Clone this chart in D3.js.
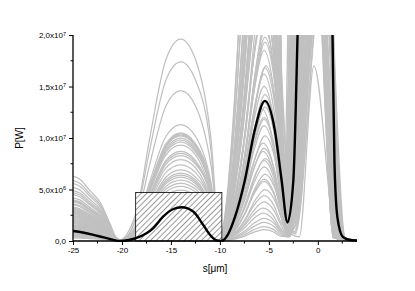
<!DOCTYPE html>
<html><head><meta charset="utf-8">
<script src="https://cdn.jsdelivr.net/npm/d3@7"></script>
<style>body{margin:0;background:#fff}svg{display:block}</style>
</head><body>
<svg id="c" width="415" height="291"></svg>
<script>
// ---- axis ticks ----
const xTicks = [-25, -20, -15, -10, -5, 0];
const xMinor = [-22.5, -17.5, -12.5, -7.5, -2.5, 2.5];
const yTicks = [0, 5, 10, 15, 20];              // in 1e6 W
const yMinor = [2.5, 7.5, 12.5, 17.5];
const yTickText = ["0,0", "5,0x10", "1,0x10", "1,5x10", "2,0x10"];
const yTickExp  = ["", "6", "7", "7", "7"];

// ---- black (mean) curve, P in 1e6 W ----
const blackS = [-25,-24,-23,-22,-21,-20.2,-19.3,-18.5,-17.5,-16.8,-15.8,-14.8,-13.9,-12.7,-11.7,-11.0,-10.4,-9.9,-9.2,-8.45,-7.45,-6.43,-5.4,-4.4,-3.7,-3.1,-2.5,-2.07,-1.5,-0.5,0.5,1.0,1.5,1.7,2.0,2.55,3.2,4.0];
const blackP = [0.97,0.82,0.62,0.38,0.14,0,0.1,0.3,0.75,1.26,2.36,3.08,3.27,2.84,1.55,0.58,0.08,0,0.6,2.36,5.9,10.8,13.6,10.8,5.9,1.8,5.9,20,45,70,70,45,20,7.6,2.3,0.4,0.12,0.05];

// ---- hatched box ----
const boxS = [-18.6, -9.8];
const boxP = 4.7;

// ---- gray shots: key values (1e6 W, s in µm) ----
const grayLeft = [6.3,4.2,5.6,3.1,2.4,4.9,1.8,3.6,2.9,1.2,5.2,2.1,0.9,3.3,1.5,4.5,2.6,0.7,1.9,3.9,1.1,2.3,0.5,1.6,2.8,0.8,1.3,3.5,0.6,2.0,1.0,0.4,1.7,0.9,2.5,0.6,1.4,0.3,1.1,0.7,
  3.0,1.5,4.0,0.8,2.2,5.9,1.2,2.7,0.5,3.8,1.9,0.9,4.7,1.4,2.4,0.6,3.2,1.7,1.0,2.9];
const grayLeftZero = [-20.4,-20.1,-20.3,-19.9,-20.2,-20.5,-20.0,-20.3,-19.8,-20.1,-20.6,-20.0,-19.9,-20.2,-20.4,-20.1,-19.8,-20.3,-20.0,-20.5,-20.2,-19.9,-20.1,-20.3,-20.0,-19.8,-20.2,-20.4,-20.1,-19.9,-20.3,-20.0,-20.2,-19.8,-20.1,-20.4,-20.0,-20.2,-19.9,-20.1,
  -20.2,-19.9,-20.4,-20.0,-20.3,-20.5,-19.8,-20.1,-20.0,-20.3,-19.9,-20.2,-20.4,-20.0,-20.1,-19.8,-20.3,-20.0,-20.2,-19.9];
const grayArch = [19.6,17.4,14.6,11.3,10.5,10.3,10.0,9.6,9.3,8.7,8.3,7.9,7.4,6.9,6.6,6.2,5.9,5.6,5.3,4.95,4.6,4.3,4.0,3.7,3.4,3.1,2.8,2.5,2.2,1.9,1.6,1.4,1.2,1.0,0.8,0.6,0.5,0.4,0.3,0.2,
  10.4,10.2,4.5,4.2,3.9,3.5,3.3,3.0,2.7,2.4,2.1,1.8,1.5,1.3,1.1,0.9,0.7,9.8,8.5,6.4];
const grayArchEnd = [-10.0,-10.1,-9.9,-10.0,-10.2,-9.9,-10.0,-10.1,-9.8,-10.0,-10.1,-9.9,-10.0,-10.2,-9.9,-10.0,-10.1,-9.8,-10.0,-9.9,-10.1,-10.0,-9.9,-10.2,-10.0,-9.8,-10.1,-10.0,-9.9,-10.0,-10.1,-9.9,-10.0,-10.2,-9.8,-10.0,-10.1,-9.9,-10.0,-10.0,
  -10.0,-9.9,-10.1,-10.0,-9.8,-10.0,-10.2,-9.9,-10.0,-10.1,-10.0,-9.9,-10.1,-10.0,-9.8,-10.0,-10.1,-9.9,-10.0,-10.0];
const grayPeak2 = [60,19.3,45,12.8,38,17.0,8.7,33,5.0,28,15.0,25,10.2,23,3.2,18.5,21.5,7.2,50,14.2,2.2,35,11.2,6.5,30,16.2,1.4,27,9.5,4.4,24,12.0,22,3.8,8.0,40,5.8,2.7,1.8,1.1,
  70,42,20.5,26,32,55,13.5,19.8,36,9.0,16.8,48,29,6.0,31,13.0,65,11.8,44,7.8];
const grayPeak2S = [-5.6,-5.4,-5.5,-5.7,-5.5,-5.3,-5.6,-5.5,-5.4,-5.6,-5.5,-5.7,-5.4,-5.5,-5.6,-5.5,-5.3,-5.5,-5.6,-5.4,-5.5,-5.7,-5.5,-5.4,-5.6,-5.5,-5.5,-5.3,-5.6,-5.5,-5.4,-5.5,-5.6,-5.5,-5.4,-5.7,-5.5,-5.6,-5.5,-5.5,
  -5.6,-5.5,-5.4,-5.6,-5.5,-5.7,-5.5,-5.4,-5.6,-5.5,-5.4,-5.6,-5.5,-5.5,-5.6,-5.4,-5.7,-5.5,-5.6,-5.5];
const grayMin = [1.2,0.8,1.6,0.6,2.0,1.0,0.5,1.4,0.5,1.8,0.9,2.2,0.7,1.3,0.5,1.1,1.9,0.6,2.3,0.8,0.5,1.5,0.9,0.5,1.7,1.0,0.4,2.1,0.7,0.4,1.6,0.8,1.2,0.5,0.6,2.0,0.5,0.5,0.4,0.4,
  1.5,1.1,0.8,1.3,1.9,2.2,0.7,1.0,1.6,0.6,0.9,1.8,1.2,0.5,1.4,0.7,2.0,0.8,1.7,0.6];
const grayMinS = [-3.3,-3.1,-3.4,-3.0,-3.5,-3.2,-3.1,-3.3,-3.0,-3.4,-3.2,-3.5,-3.1,-3.3,-2.9,-3.2,-3.4,-3.0,-3.6,-3.2,-2.9,-3.3,-3.1,-3.0,-3.4,-3.2,-2.9,-3.5,-3.1,-1.9,-3.3,-3.1,-3.4,-3.0,-3.1,-3.5,-3.0,-2.9,-3.0,-2.9,
  -3.5,-2.5,-3.0,-2.4,-3.4,-3.6,-2.3,-3.1,-2.6,-2.9,-2.4,-3.4,-2.5,-3.0,-2.6,-2.4,-3.5,-3.1,-2.5,-3.0];
const grayPeak3 = [150,60,90,40,120,70,35,100,45,80,55,130,38,65,30,75,110,42,140,50,28,85,48,36,95,58,26,125,44,17,88,52,70,33,46,115,40,29,34,27,
  35,30,32,28,38,60,26,36,30,28,27,50,29,26,31,25,55,33,30,29];
const grayPeak3S = [-0.8,0.0,-0.5,0.3,-1.0,-0.2,0.4,-0.6,0.2,-0.3,0.1,-1.1,0.5,-0.4,0.3,-0.1,-0.7,0.2,-1.2,0.0,0.4,-0.5,0.1,0.3,-0.9,-0.2,0.5,-0.8,0.2,-0.4,-0.6,0.0,-0.3,0.4,0.1,-1.0,0.2,0.5,0.3,0.4,
  -0.6,0.2,-0.3,0.3,-0.8,-1.0,0.4,-0.4,0.1,-0.1,0.3,-0.9,0.2,0.0,0.1,0.4,-1.0,-0.3,0.2,-0.1];
const grayTailS = [2.3,2.5,2.2,2.6,2.1,2.4,2.7,2.3,2.5,2.2,2.6,2.0,2.8,2.4,2.5,2.3,2.1,2.6,2.2,2.4,2.7,2.3,2.5,2.6,2.2,2.4,2.8,2.1,2.5,1.9,2.3,2.4,2.2,2.6,2.5,2.1,2.4,2.7,2.5,2.6,
  1.7,2.0,1.6,2.1,1.7,1.8,2.2,1.7,1.9,1.6,2.0,1.8,1.9,1.6,1.8,2.3,1.9,1.7,2.0,1.6];

// shape profiles shared by the gray shots (relative height vs position)
const leftProfS = [-25,-24.3,-23.3,-22.2,-21.2];
const leftProfF = [1,0.95,0.78,0.59,0.26];
const archProfS = [-18.5,-17.2,-15.5,-14.0,-12.5,-10.9];
const archProfF = [0.15,0.5,0.9,1,0.9,0.5];
const riseOff = [-3.75,-3.0,-2.0,-1.0,0];
const riseF   = [0.044,0.17,0.43,0.79,1];
const fallOff = [1.0,1.7];
const fallF   = [0.79,0.43];

// ---- drawing ----
const svg = d3.select("#c");
const x = d3.scaleLinear().domain([-25, 4]).range([73, 357]);
const y = d3.scaleLinear().domain([0, 20]).range([241, 35]);

svg.append("defs").call(d => {
  d.append("clipPath").attr("id","clip").append("rect")
    .attr("x", x(-25)).attr("y", y(20)).attr("width", x(4)-x(-25)).attr("height", y(0)-y(20)+1);
  const p = d.append("pattern").attr("id","hatch").attr("patternUnits","userSpaceOnUse")
    .attr("width",4).attr("height",4).attr("patternTransform","rotate(45)");
  p.append("rect").attr("width",4).attr("height",4).attr("fill","#fff");
  p.append("line").attr("x1",0).attr("y1",0).attr("x2",0).attr("y2",4)
    .attr("stroke","#000").attr("stroke-width",0.8);
});

const line = d3.line().x(d => x(d[0])).y(d => y(d[1])).curve(d3.curveMonotoneX);

function grayPoints(i) {
  const pts = [];
  leftProfS.forEach((s,k) => pts.push([s, grayLeft[i]*leftProfF[k]]));
  pts.push([grayLeftZero[i], 0]);
  archProfS.forEach((s,k) => pts.push([s, grayArch[i]*archProfF[k]]));
  pts.push([grayArchEnd[i], 0]);
  riseOff.forEach((o,k) => pts.push([grayPeak2S[i]+o, grayPeak2[i]*riseF[k]]));
  fallOff.forEach((o,k) => pts.push([grayPeak2S[i]+o, grayPeak2[i]*fallF[k]]));
  pts.push([grayMinS[i], grayMin[i]]);
  pts.push([grayPeak3S[i], grayPeak3[i]]);
  pts.push([grayTailS[i], 0.3]);
  pts.push([4, 0.03]);
  return pts;
}

const g = svg.append("g").attr("clip-path","url(#clip)");
g.selectAll("path.gray").data(d3.range(grayLeft.length)).join("path")
  .attr("class","gray").attr("d", i => line(grayPoints(i)))
  .attr("fill","none").attr("stroke","#c0c0c0").attr("stroke-width",1.25);

g.append("rect").attr("x", x(boxS[0])).attr("y", y(boxP))
  .attr("width", x(boxS[1])-x(boxS[0])).attr("height", y(0)-y(boxP))
  .attr("fill","url(#hatch)").attr("stroke","#000").attr("stroke-width",0.8);

g.append("path").attr("d", line(blackS.map((s,k)=>[s, blackP[k]])))
  .attr("fill","none").attr("stroke","#000").attr("stroke-width",2.4);

// axes
const font = "'Liberation Sans', Arial, sans-serif";
const xa = svg.append("g").attr("transform",`translate(0,${y(0)})`)
  .call(d3.axisBottom(x).tickValues(xTicks).tickSize(4).tickFormat(d3.format("d")));
xa.append("g").selectAll("line").data(xMinor).join("line")
  .attr("x1",d=>x(d)).attr("x2",d=>x(d)).attr("y1",0).attr("y2",2.5).attr("stroke","#000");
const ya = svg.append("g").attr("transform",`translate(${x(-25)},0)`)
  .call(d3.axisLeft(y).tickValues(yTicks).tickSize(4).tickFormat(""));
ya.append("g").selectAll("line").data(yMinor).join("line")
  .attr("y1",d=>y(d)).attr("y2",d=>y(d)).attr("x1",0).attr("x2",-2.5).attr("stroke","#000");
[xa, ya].forEach(a => {
  a.select(".domain").attr("stroke-width",1.3);
  a.selectAll(".tick line").attr("stroke-width",1);
  a.selectAll("text").attr("font-family",font).attr("font-size",8).attr("fill","#000");
});
xa.select(".domain").attr("d", `M${x(-25)},0H${x(4)}`);
ya.select(".domain").attr("d", `M0,${y(0)}V${y(20)}`);
xa.selectAll(".tick text").attr("dy","0.9em").attr("y",5)
  .text(d => d < 0 ? "-" + Math.abs(d) : d);

ya.selectAll(".tick").each(function(d,i){
  const t = d3.select(this).append("text").attr("x",-7).attr("dy","0.32em")
    .attr("text-anchor","end").attr("font-family",font).attr("font-size",8).attr("fill","#000");
  t.append("tspan").text(yTickText[i]);
  if (yTickExp[i]) t.append("tspan").attr("dy","-0.45em").attr("font-size",5.5).text(yTickExp[i]);
});

svg.append("text").attr("x",215).attr("y",272).attr("text-anchor","middle")
  .attr("font-family",font).attr("font-size",10).text("s[μm]");
svg.append("text").attr("transform","translate(23,138) rotate(-90)").attr("text-anchor","middle")
  .attr("font-family",font).attr("font-size",10).text("P[W]");
</script>
</body></html>
